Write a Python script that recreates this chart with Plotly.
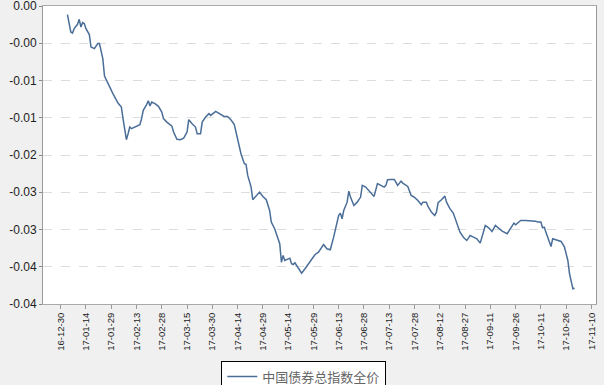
import plotly.graph_objects as go

series_name = "中国债券总指数全价"

dates = [
    "2017-01-03", "2017-01-04", "2017-01-05", "2017-01-06", "2017-01-07", "2017-01-09", "2017-01-10",
    "2017-01-11", "2017-01-12", "2017-01-13", "2017-01-14", "2017-01-16", "2017-01-17", "2017-01-19",
    "2017-01-20", "2017-01-21", "2017-01-22", "2017-01-23", "2017-01-24", "2017-01-25", "2017-01-27",
    "2017-01-30", "2017-02-02", "2017-02-04", "2017-02-05", "2017-02-06", "2017-02-07", "2017-02-08",
    "2017-02-09", "2017-02-10", "2017-02-12", "2017-02-15", "2017-02-16", "2017-02-17", "2017-02-19",
    "2017-02-20", "2017-02-21", "2017-02-22", "2017-02-24", "2017-02-26", "2017-02-28", "2017-03-01",
    "2017-03-03", "2017-03-06", "2017-03-07", "2017-03-09", "2017-03-11", "2017-03-13", "2017-03-15",
    "2017-03-16", "2017-03-18", "2017-03-20", "2017-03-21", "2017-03-23", "2017-03-24", "2017-03-26",
    "2017-03-28", "2017-03-29", "2017-04-01", "2017-04-04", "2017-04-06", "2017-04-08", "2017-04-10",
    "2017-04-12", "2017-04-14", "2017-04-16", "2017-04-18", "2017-04-19", "2017-04-20", "2017-04-22",
    "2017-04-23", "2017-04-25", "2017-04-27", "2017-04-29", "2017-05-01", "2017-05-03", "2017-05-04",
    "2017-05-06", "2017-05-07", "2017-05-09", "2017-05-10", "2017-05-11", "2017-05-12", "2017-05-14",
    "2017-05-15", "2017-05-16", "2017-05-17", "2017-05-18", "2017-05-20", "2017-05-22", "2017-05-24",
    "2017-05-26", "2017-05-28", "2017-05-30", "2017-06-01", "2017-06-03", "2017-06-04", "2017-06-06",
    "2017-06-08", "2017-06-10", "2017-06-12", "2017-06-13", "2017-06-14", "2017-06-15", "2017-06-16",
    "2017-06-18", "2017-06-19", "2017-06-20", "2017-06-22", "2017-06-24", "2017-06-26", "2017-06-27",
    "2017-06-29", "2017-07-01", "2017-07-03", "2017-07-04", "2017-07-06", "2017-07-08", "2017-07-10",
    "2017-07-11", "2017-07-12", "2017-07-14", "2017-07-16", "2017-07-18", "2017-07-20", "2017-07-21",
    "2017-07-24", "2017-07-25", "2017-07-26", "2017-07-28", "2017-07-30", "2017-08-01", "2017-08-02",
    "2017-08-04", "2017-08-05", "2017-08-07", "2017-08-09", "2017-08-10", "2017-08-11", "2017-08-13",
    "2017-08-15", "2017-08-16", "2017-08-18", "2017-08-20", "2017-08-22", "2017-08-24", "2017-08-26",
    "2017-08-28", "2017-08-29", "2017-08-30", "2017-09-01", "2017-09-02", "2017-09-03", "2017-09-05",
    "2017-09-06", "2017-09-08", "2017-09-10", "2017-09-12", "2017-09-14", "2017-09-16", "2017-09-18",
    "2017-09-21", "2017-09-23", "2017-09-25", "2017-09-26", "2017-09-29", "2017-10-02", "2017-10-05",
    "2017-10-08", "2017-10-09", "2017-10-11", "2017-10-12", "2017-10-13", "2017-10-14", "2017-10-15",
    "2017-10-17", "2017-10-18", "2017-10-20", "2017-10-23", "2017-10-25", "2017-10-26", "2017-10-27",
    "2017-10-28", "2017-10-30", "2017-10-31",
]

values = [
    -0.00116, -0.00236, -0.00349, -0.00363, -0.00304, -0.00246, -0.00179,
    -0.00282, -0.00223, -0.00236, -0.00304, -0.00384, -0.00551, -0.00572,
    -0.00528, -0.00505, -0.00505, -0.00595, -0.00707, -0.00940, -0.01042,
    -0.01177, -0.01303, -0.01357, -0.01512, -0.01670, -0.01795, -0.01714,
    -0.01625, -0.01647, -0.01625, -0.01593, -0.01512, -0.01401, -0.01324,
    -0.01271, -0.01343, -0.01289, -0.01311, -0.01347, -0.01424, -0.01512,
    -0.01558, -0.01612, -0.01692, -0.01790, -0.01795, -0.01773, -0.01692,
    -0.01526, -0.01580, -0.01625, -0.01714, -0.01714, -0.01558, -0.01491,
    -0.01445, -0.01468, -0.01414, -0.01455, -0.01482, -0.01482, -0.01526,
    -0.01589, -0.01795, -0.01983, -0.02117, -0.02126, -0.02274, -0.02431,
    -0.02600, -0.02543, -0.02498, -0.02556, -0.02600, -0.02744, -0.02901,
    -0.02990, -0.03057, -0.03191, -0.03439, -0.03349, -0.03416, -0.03393,
    -0.03385, -0.03460, -0.03470, -0.03447, -0.03514, -0.03586, -0.03527,
    -0.03460, -0.03393, -0.03335, -0.03304, -0.03245, -0.03201, -0.03259,
    -0.03272, -0.03103, -0.02923, -0.02811, -0.02780, -0.02856, -0.02744,
    -0.02633, -0.02485, -0.02565, -0.02677, -0.02633, -0.02565, -0.02408,
    -0.02431, -0.02476, -0.02520, -0.02556, -0.02385, -0.02408, -0.02431,
    -0.02408, -0.02332, -0.02328, -0.02328, -0.02408, -0.02351, -0.02377,
    -0.02422, -0.02482, -0.02543, -0.02570, -0.02610, -0.02668, -0.02633,
    -0.02633, -0.02690, -0.02767, -0.02811, -0.02767, -0.02641, -0.02600,
    -0.02552, -0.02633, -0.02721, -0.02780, -0.02901, -0.03036, -0.03103,
    -0.03147, -0.03116, -0.03080, -0.03103, -0.03111, -0.03124, -0.03183,
    -0.03103, -0.02946, -0.02977, -0.03026, -0.02946, -0.02990, -0.03022,
    -0.03057, -0.02990, -0.02915, -0.02936, -0.02878, -0.02878, -0.02882,
    -0.02888, -0.02901, -0.02901, -0.02977, -0.02968, -0.03036, -0.03103,
    -0.03228, -0.03124, -0.03138, -0.03160, -0.03237, -0.03349, -0.03416,
    -0.03594, -0.03796, -0.03788,
]

x_tick_dates = [
    "2016-12-30", "2017-01-14", "2017-01-29", "2017-02-13", "2017-02-28", "2017-03-15",
    "2017-03-30", "2017-04-14", "2017-04-29", "2017-05-14", "2017-05-29", "2017-06-13",
    "2017-06-28", "2017-07-13", "2017-07-28", "2017-08-12", "2017-08-27", "2017-09-11",
    "2017-09-26", "2017-10-11", "2017-10-26", "2017-11-10",
]
x_tick_labels = [d[2:] for d in x_tick_dates]

y_tick_values = [0.0, -0.005, -0.01, -0.015, -0.02, -0.025, -0.03, -0.035, -0.04]
y_tick_labels = ["0.00", "-0.00", "-0.01", "-0.01", "-0.02", "-0.03", "-0.03", "-0.04", "-0.04"]

fig = go.Figure()
fig.add_trace(go.Scatter(
    x=dates, y=values, mode="lines", name=series_name,
    line=dict(color="#4a6e98", width=1.5),
))

fig.update_layout(
    width=604, height=385,
    autosize=False,
    margin=dict(l=43, r=8, t=6, b=81, autoexpand=False),
    paper_bgcolor="#f0f0f0",
    plot_bgcolor="#ffffff",
    font=dict(family="Liberation Sans, Arial, sans-serif", color="#222222"),
    showlegend=True,
    legend=dict(
        orientation="h",
        xref="container", yref="container",
        x=0.503, xanchor="center",
        y=1 - 360.5 / 385, yanchor="top",
        bgcolor="#ffffff",
        bordercolor="#000000", borderwidth=1,
        font=dict(family="Noto Sans CJK SC", size=13, color="#666666"),
        itemwidth=30,
    ),
)

fig.update_xaxes(
    type="date",
    range=["2016-12-19 12:00", "2017-11-12 17:00"],
    tickmode="array", tickvals=x_tick_dates, ticktext=x_tick_labels,
    tickangle=-90,
    tickfont=dict(size=9.5, color="#222222"),
    ticks="outside", ticklen=4, tickcolor="#999999",
    ticklabeloverflow="allow",
    showgrid=False,
    showline=True, linecolor="#aaaaaa", linewidth=1, mirror=True,
    zeroline=False,
    automargin=False,
)

fig.update_yaxes(
    range=[-0.04, 0.0],
    tickmode="array", tickvals=y_tick_values, ticktext=y_tick_labels,
    tickfont=dict(size=12, color="#222222"),
    ticks="outside", ticklen=3, tickcolor="#888888",
    ticklabeloverflow="allow",
    showgrid=True, gridcolor="#dddddd", griddash="dash", gridwidth=1,
    showline=True, linecolor="#999999", linewidth=1, mirror=True,
    zeroline=False,
    automargin=False,
)

fig.write_html(
    "out.html",
    config={"displayModeBar": False},
    post_script="document.body.style.margin='0px';document.body.style.overflow='hidden';document.body.style.background='#f0f0f0';",
)
